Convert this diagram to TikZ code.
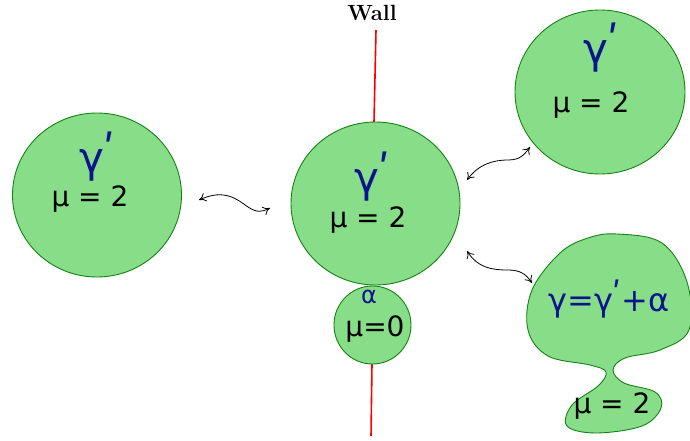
\documentclass[tikz,border=0pt]{standalone}
\usepackage{fontspec}
\newfontfamily\hand{DejaVu Sans}
\usetikzlibrary{arrows.meta}
\definecolor{blobfill}{RGB}{136,222,136}
\definecolor{blobline}{RGB}{20,130,20}
\definecolor{ink}{RGB}{10,20,140}
\tikzset{
  bubble/.style={fill=blobfill, draw=blobline, line width=0.9pt},
  wall/.style={red, line width=1.6pt},
  swap/.style={black, line width=0.8pt, {To[length=7pt,width=9pt]}-{To[length=7pt,width=9pt]}},
  gam/.style={text=ink, font=\hand\fontsize{42}{44}\selectfont, inner sep=0pt},
  mu/.style={text=black, font=\hand\fontsize{28}{30}\selectfont, inner sep=0pt},
}
\newcommand{\gprime}{γ\kern-1pt\raisebox{0.3ex}{ʹ}}
\begin{document}
\begin{tikzpicture}[x=1pt,y=-1pt]
\useasboundingbox (0,0) rectangle (690,441);

% the wall
\node[font=\bfseries\fontsize{22}{24}\selectfont] (walllabel) at (372,13) {Wall};
\coordinate (wtop) at (376,30);
\coordinate (wbot) at (371,436);

% bubbles
\draw[bubble] (97,195) ellipse [x radius=84.5, y radius=82];
\draw[bubble] (375.5,203.5) ellipse [x radius=84.5, y radius=81.5];
\coordinate (midtop) at (374,122);
\coordinate (smallbot) at (372,364);
\draw[wall] (wtop) -- (midtop);
\draw[wall] (smallbot) -- (wbot);
\draw[bubble] (372.5,325) ellipse [x radius=38.5, y radius=39];
\draw[bubble] (600,92) ellipse [x radius=85, y radius=82];

% merged bubble with a neck
\draw[bubble] plot[smooth cycle, tension=0.6] coordinates {
  (617,234) (662,243) (687,282) (689,330) (660,350) (625,358)
  (613,370) (624,383) (655,392) (661,408) (642,426) (596,433)
  (567,426) (572,405) (598,386) (606,372) (590,365) (548,356)
  (528,330) (532,290) (560,253) (588,238)};

% labels in the bubbles
\node[gam] (g1) at (97,157) {\gprime};
\node[mu] (m1) at (90,199) {μ = 2};
\node[gam] (g2) at (372,177) {\gprime};
\node[mu] (m2) at (368,220) {μ = 2};
\node[gam, font=\hand\fontsize{24}{26}\selectfont] (a3) at (369,297) {α};
\node[mu] (m3) at (375,329) {μ=0};
\node[gam] (g4) at (601,48) {\gprime};
\node[mu] (m4) at (591,105) {μ = 2};
\node[gam, font=\hand\fontsize{32}{34}\selectfont] (g5) at (609,299) {γ=\gprime+α};
\node[mu] (m5) at (612,406) {μ = 2};

% wavy double arrows
\coordinate (a1s) at (199,200);
\coordinate (a1e) at (270,208);
\draw[swap] (a1s) .. controls (225,188) and (238,200) .. (248,207)
            .. controls (257,213) and (262,212) .. (a1e);
\coordinate (a2s) at (467,180);
\coordinate (a2e) at (530,147);
\draw[swap] (a2s) .. controls (478,165) and (492,160) .. (508,160)
            .. controls (520,160) and (524,155) .. (a2e);
\coordinate (a3s) at (467,251);
\coordinate (a3e) at (532,283);
\draw[swap] (a3s) .. controls (478,268) and (492,270) .. (508,270)
            .. controls (520,270) and (526,274) .. (a3e);
\end{tikzpicture}
\end{document}
